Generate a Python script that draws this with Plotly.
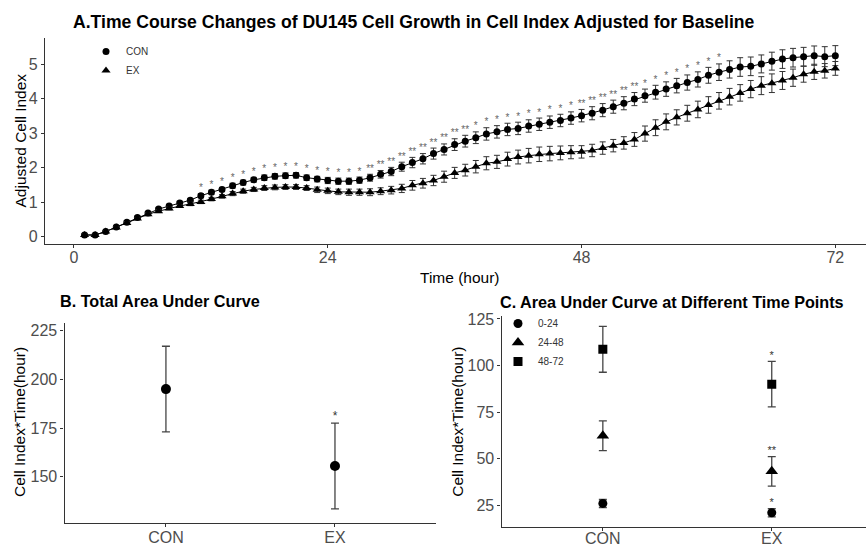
import plotly.graph_objects as go

W, H = 866, 547

# ---------------- Data ----------------
hours = [1, 2, 3, 4, 5, 6, 7, 8, 9, 10, 11, 12, 13, 14, 15, 16, 17, 18, 19, 20, 21, 22, 23, 24,
         25, 26, 27, 28, 29, 30, 31, 32, 33, 34, 35, 36, 37, 38, 39, 40, 41, 42, 43, 44, 45, 46, 47, 48,
         49, 50, 51, 52, 53, 54, 55, 56, 57, 58, 59, 60, 61, 62, 63, 64, 65, 66, 67, 68, 69, 70, 71, 72]

con_ci = [0.05, 0.05, 0.15, 0.28, 0.42, 0.56, 0.69, 0.80, 0.89, 0.98, 1.06, 1.19,
          1.29, 1.37, 1.48, 1.57, 1.65, 1.71, 1.75, 1.77, 1.78, 1.71, 1.67, 1.63,
          1.61, 1.61, 1.64, 1.71, 1.81, 1.89, 2.03, 2.15, 2.26, 2.41, 2.53, 2.67,
          2.77, 2.87, 2.98, 3.04, 3.11, 3.14, 3.21, 3.26, 3.32, 3.37, 3.44, 3.51,
          3.58, 3.67, 3.77, 3.87, 3.99, 4.09, 4.19, 4.28, 4.38, 4.47, 4.56, 4.68,
          4.77, 4.85, 4.92, 4.94, 5.01, 5.09, 5.15, 5.19, 5.22, 5.25, 5.22, 5.25]
con_err = [0.03, 0.03, 0.03, 0.03, 0.04, 0.04, 0.04, 0.04, 0.05, 0.05, 0.05, 0.06,
           0.06, 0.06, 0.07, 0.07, 0.07, 0.08, 0.08, 0.08, 0.08, 0.08, 0.08, 0.09,
           0.09, 0.09, 0.09, 0.10, 0.11, 0.12, 0.13, 0.15, 0.15, 0.16, 0.16, 0.17,
           0.17, 0.17, 0.18, 0.18, 0.18, 0.18, 0.18, 0.18, 0.18, 0.18, 0.18, 0.18,
           0.19, 0.19, 0.19, 0.19, 0.19, 0.19, 0.20, 0.21, 0.21, 0.22, 0.22, 0.23,
           0.24, 0.25, 0.27, 0.27, 0.26, 0.26, 0.27, 0.27, 0.27, 0.28, 0.29, 0.29]

ex_ci = [0.05, 0.05, 0.15, 0.27, 0.40, 0.53, 0.65, 0.74, 0.82, 0.89, 0.95, 1.01,
         1.09, 1.17, 1.25, 1.32, 1.37, 1.41, 1.43, 1.44, 1.44, 1.41, 1.36, 1.33,
         1.30, 1.29, 1.29, 1.29, 1.32, 1.35, 1.40, 1.49, 1.55, 1.63, 1.74, 1.85,
         1.93, 2.03, 2.13, 2.17, 2.25, 2.31, 2.35, 2.39, 2.41, 2.43, 2.45, 2.46,
         2.50, 2.57, 2.64, 2.72, 2.82, 2.99, 3.16, 3.33, 3.46, 3.58, 3.69, 3.82,
         3.94, 4.06, 4.17, 4.28, 4.38, 4.45, 4.53, 4.61, 4.71, 4.78, 4.81, 4.88]
ex_err = [0.03, 0.03, 0.03, 0.03, 0.03, 0.03, 0.04, 0.04, 0.04, 0.04, 0.05, 0.05,
          0.05, 0.05, 0.06, 0.06, 0.06, 0.07, 0.07, 0.07, 0.07, 0.07, 0.08, 0.08,
          0.08, 0.09, 0.09, 0.10, 0.10, 0.11, 0.12, 0.14, 0.14, 0.15, 0.16, 0.16,
          0.17, 0.18, 0.19, 0.19, 0.20, 0.20, 0.21, 0.21, 0.21, 0.20, 0.19, 0.18,
          0.18, 0.18, 0.18, 0.18, 0.20, 0.22, 0.23, 0.23, 0.22, 0.23, 0.24, 0.24,
          0.24, 0.24, 0.24, 0.25, 0.26, 0.27, 0.26, 0.25, 0.23, 0.22, 0.21, 0.20]

sig_a = ["", "", "", "", "", "", "", "", "", "", "", "*",
         "*", "*", "*", "*", "*", "*", "*", "*", "*", "*", "*", "*",
         "*", "*", "*", "**", "**", "**", "**", "**", "**", "**", "**", "**",
         "**", "*", "*", "*", "*", "*", "*", "*", "*", "*", "*", "**",
         "**", "**", "**", "**", "**", "*", "*", "*", "*", "*", "*", "*",
         "*", "", "", "", "", "", "", "", "", "", "", ""]

groups = ["CON", "EX"]
auc_total = [195.0, 155.5]
auc_total_err = [22.0, 22.0]
sig_b = ["", "*"]

auc_0_24 = [26.0, 21.0]
auc_0_24_err = [2.2, 2.2]
sig_0_24 = ["", "*"]
auc_24_48 = [62.3, 43.2]
auc_24_48_err = [8.0, 7.9]
sig_24_48 = ["", "**"]
auc_48_72 = [108.7, 90.0]
auc_48_72_err = [12.3, 12.2]
sig_48_72 = ["", "*"]

# ---------------- Helpers ----------------
def fx(px):
    return px / W

def fy(py):
    return 1 - py / H

FONT = "Arial, Liberation Sans, sans-serif"
TICKC = "#4d4d4d"
AXC = "#333333"
ERRC = "#333333"

fig = go.Figure()

# ---------------- Panel A ----------------
for vals in (con_ci, ex_ci):
    fig.add_trace(go.Scatter(
        x=hours, y=vals, mode="lines", line=dict(color="black", width=1),
        showlegend=False, hoverinfo="skip", xaxis="x", yaxis="y"))
fig.add_trace(go.Scatter(
    x=hours, y=con_ci, mode="markers", name="CON",
    marker=dict(symbol="circle", size=7, color="black"),
    error_y=dict(type="data", array=con_err, color=ERRC, thickness=1, width=3),
    xaxis="x", yaxis="y", legend="legend"))
fig.add_trace(go.Scatter(
    x=hours, y=ex_ci, mode="markers", name="EX",
    marker=dict(symbol="triangle-up", size=8, color="black"),
    error_y=dict(type="data", array=ex_err, color=ERRC, thickness=1, width=3),
    xaxis="x", yaxis="y", legend="legend"))
fig.add_trace(go.Scatter(
    x=hours, y=[v + e for v, e in zip(con_ci, con_err)], mode="text", text=sig_a,
    textposition="top center", textfont=dict(size=10, color="#666666", family=FONT),
    showlegend=False, hoverinfo="skip", xaxis="x", yaxis="y"))

# ---------------- Panel B ----------------
fig.add_trace(go.Scatter(
    x=groups, y=auc_total, mode="markers", name="total",
    marker=dict(symbol="circle", size=10, color="black"),
    error_y=dict(type="data", array=auc_total_err, color="#444444", thickness=1.3, width=4),
    showlegend=False, xaxis="x2", yaxis="y2"))
fig.add_trace(go.Scatter(
    x=groups, y=[v + e for v, e in zip(auc_total, auc_total_err)], mode="text", text=sig_b,
    textposition="top center", textfont=dict(size=12, color="#333333", family=FONT),
    showlegend=False, hoverinfo="skip", xaxis="x2", yaxis="y2"))

# ---------------- Panel C ----------------
for name, vals, errs, sigs, sym, sz in [
    ("0-24", auc_0_24, auc_0_24_err, sig_0_24, "circle", 9),
    ("24-48", auc_24_48, auc_24_48_err, sig_24_48, "triangle-up", 11),
    ("48-72", auc_48_72, auc_48_72_err, sig_48_72, "square", 9),
]:
    fig.add_trace(go.Scatter(
        x=groups, y=vals, mode="markers", name=name,
        marker=dict(symbol=sym, size=sz, color="black"),
        error_y=dict(type="data", array=errs, color="#444444", thickness=1.3, width=4),
        xaxis="x3", yaxis="y3", legend="legend2"))
    fig.add_trace(go.Scatter(
        x=groups, y=[v + e for v, e in zip(vals, errs)], mode="text", text=sigs,
        textposition="top center", textfont=dict(size=11, color="#333333", family=FONT),
        showlegend=False, hoverinfo="skip", xaxis="x3", yaxis="y3"))

axis_common = dict(showline=True, linecolor=AXC, linewidth=1.2, ticks="outside",
                   ticklen=3, tickcolor=AXC, showgrid=False, zeroline=False,
                   tickfont=dict(size=16, color=TICKC, family=FONT), automargin=False)

fig.update_layout(
    width=W, height=H, margin=dict(l=0, r=0, t=0, b=0),
    paper_bgcolor="white", plot_bgcolor="white",
    font=dict(family=FONT),
    xaxis=dict(domain=[fx(45), 1.0], range=[-2.74, 74.9], tickvals=[0, 24, 48, 72],
               anchor="y", ticklabelstandoff=-5, **axis_common),
    yaxis=dict(domain=[fy(244.3), fy(37.7)], range=[-0.22, 5.77], tickvals=[0, 1, 2, 3, 4, 5],
               anchor="x", **axis_common),
    xaxis2=dict(domain=[fx(64.5), fx(436.4)], range=[-0.6, 1.6], type="category",
                categoryorder="array", categoryarray=groups, anchor="y2",
                ticklabelstandoff=-4, **axis_common),
    yaxis2=dict(domain=[fy(523.3), fy(322.7)], range=[126.1, 229.1], tickvals=[150, 175, 200, 225],
                anchor="x2", **axis_common),
    xaxis3=dict(domain=[fx(501.5), 1.0], range=[-0.6, 1.558], type="category",
                categoryorder="array", categoryarray=groups, anchor="y3",
                ticklabelstandoff=-6, **axis_common),
    yaxis3=dict(domain=[fy(526.7), fy(316)], range=[13.5, 126.6], tickvals=[25, 50, 75, 100, 125],
                anchor="x3", **axis_common),
    legend=dict(x=fx(86), y=fy(37), xanchor="left", yanchor="top", bgcolor="rgba(0,0,0,0)",
                itemwidth=30, font=dict(size=10, color="#333333", family=FONT), tracegroupgap=0),
    legend2=dict(x=fx(498), y=fy(309), xanchor="left", yanchor="top", bgcolor="rgba(0,0,0,0)",
                 itemwidth=30, font=dict(size=10, color="#333333", family=FONT), tracegroupgap=0),
    showlegend=True,
)

annotations = [
    dict(text="<b>A.Time Course Changes of DU145 Cell Growth in Cell Index Adjusted for Baseline</b>",
         x=fx(71), y=fy(21.7), xanchor="left", yanchor="middle", font=dict(size=17.6, color="black")),
    dict(text="Adjusted Cell Index", x=fx(20.5), y=fy(141), textangle=-90,
         xanchor="center", yanchor="middle", font=dict(size=15.5, color="black")),
    dict(text="Time (hour)", x=fx(460), y=fy(277.5), xanchor="center", yanchor="middle",
         font=dict(size=15.5, color="black")),
    dict(text="<b>B. Total Area Under Curve</b>", x=fx(58), y=fy(301), xanchor="left",
         yanchor="middle", font=dict(size=16.2, color="black")),
    dict(text="Cell Index*Time(hour)", x=fx(19), y=fy(422), textangle=-90,
         xanchor="center", yanchor="middle", font=dict(size=15.5, color="black")),
    dict(text="<b>C. Area Under Curve at Different Time Points</b>", x=fx(498), y=fy(301.7),
         xanchor="left", yanchor="middle", font=dict(size=16.2, color="black")),
    dict(text="Cell Index*Time(hour)", x=fx(456.7), y=fy(422), textangle=-90,
         xanchor="center", yanchor="middle", font=dict(size=15.5, color="black")),
]
for a in annotations:
    a.update(xref="paper", yref="paper", showarrow=False)
fig.update_layout(annotations=annotations)

fig.write_html("out.html", config={"displayModeBar": False},
               post_script="document.body.style.margin='0px';document.body.style.overflow='hidden';")
